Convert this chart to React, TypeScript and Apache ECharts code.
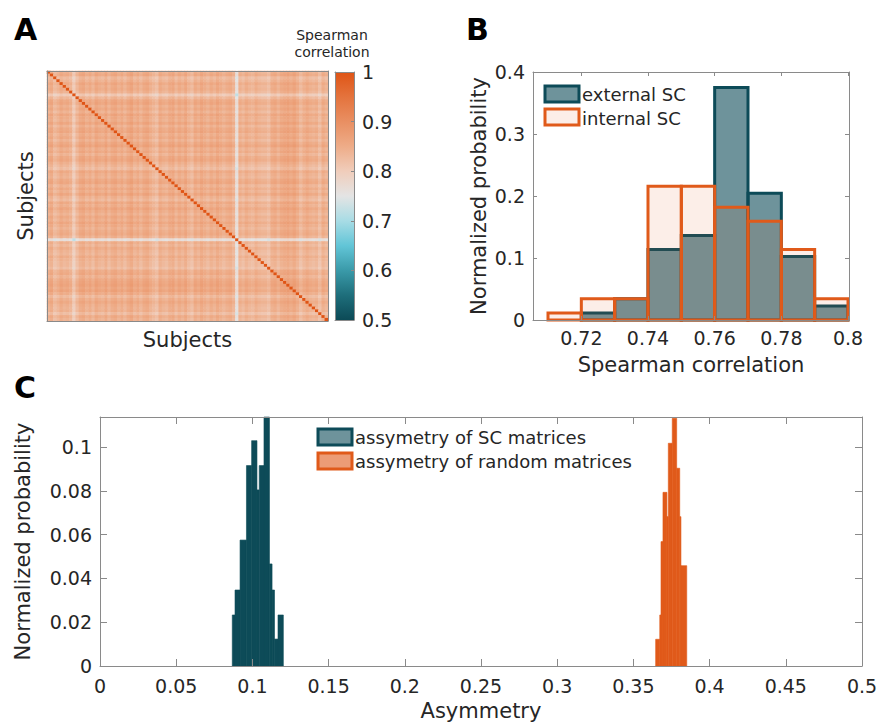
import React, { useEffect, useRef } from "react";
import * as echarts from "echarts";

// ---------- DATA ----------
// Panel A: per-subject atypicality read from the light rows/columns of the matrix
const subjectOffset = [
  0.03, 0.02, 0.045, 0.035, 0.02, 0.03, 0.025, 0.035, 0.07, 0.04,
  0.02, 0.015, 0.03, 0.02, 0.035, 0.015, 0.025, 0.03, 0.015, 0.035,
  0.02, 0.015, 0.03, 0.02, 0.035, 0.02, 0.01, 0.03, 0.02, 0.035,
  0.02, 0.015, 0.03, 0.04, 0.05, 0.02, 0.03, 0.035, 0.02, 0.015,
  0.035, 0.02, 0.03, 0.015, 0.035, 0.045, 0.02, 0.03, 0.015, 0.025,
  0.035, 0.02, 0.03, 0.015, 0.025, 0.035, 0.025, 0.02, 0.035, 0.11,
  0.03, 0.04, 0.025, 0.035, 0.04, 0.025, 0.035, 0.04, 0.04, 0.05,
  0.025, 0.02, 0.035, 0.02, 0.015, 0.01, 0.02, 0.01, 0.025, 0.045,
  0.03, 0.02, 0.03, 0.035, 0.03, 0.05, 0.025, 0.035,
];
const baseCorrelation = 0.9;
const diagonalCorrelation = 1;
const colorRange = [0.5, 1];
const colorbarTicks = [0.5, 0.6, 0.7, 0.8, 0.9, 1];
const colormap = [
  "#0c4a56", "#1e6e7b", "#3a9aa9", "#62c5d7", "#a8dce5",
  "#e4e4e4", "#f0cdbb", "#eeac88", "#e98f62", "#e4733d", "#df5415",
];

// Panel B
const binEdgesB = [0.71, 0.72, 0.73, 0.74, 0.75, 0.76, 0.77, 0.78, 0.79, 0.8];
const externalSC = [0, 0.0114, 0.0341, 0.1136, 0.1364, 0.375, 0.2045, 0.1023, 0.0227];
const internalSC = [0.0114, 0.0341, 0.0341, 0.2159, 0.2159, 0.1818, 0.1591, 0.1136, 0.0341];
const xTicksB = [0.72, 0.74, 0.76, 0.78, 0.8];
const xRangeB = [0.7055, 0.8003];
const yRangeB = [0, 0.4];

// Panel C
const scEdges = [0.0868, 0.0886, 0.0919, 0.0961, 0.0995, 0.103, 0.1045, 0.1076, 0.1112, 0.1129, 0.1145, 0.1168, 0.1203];
const scProb = [0.0233, 0.0347, 0.0575, 0.0915, 0.1029, 0.0804, 0.0915, 0.1137, 0.0466, 0.0347, 0.0123, 0.0233];
const randomEdges = [0.3646, 0.3673, 0.3681, 0.3694, 0.372, 0.3729, 0.3755, 0.3784, 0.3804, 0.3812, 0.385];
const randomProb = [0.0122, 0.0233, 0.0568, 0.0793, 0.0682, 0.1017, 0.1131, 0.0903, 0.0682, 0.0458];
const yTicksC = [0, 0.02, 0.04, 0.06, 0.08, 0.1];
const xRangeC = [0, 0.5];
const yRangeC = [0, 0.1137];

// ---------- STYLE ----------
const FONT = "DejaVu Sans";
const TEXT = "#262626";
const AXIS = "#8a8a8a";
const TEAL = "#0d4b58";
const ORANGE = "#e05a1a";

function histData(edges: number[], vals: number[]) {
  const out: number[][] = [];
  for (let i = 0; i < vals.length; i++) {
    if (vals[i] > 0) out.push([edges[i], edges[i + 1], vals[i]]);
  }
  return out;
}

function histRender(fill: string, stroke: string, lw: number) {
  return (_params: any, api: any) => {
    const tl = api.coord([api.value(0), api.value(2)]);
    const br = api.coord([api.value(1), 0]);
    return {
      type: "rect",
      shape: { x: tl[0], y: tl[1], width: br[0] - tl[0], height: br[1] - tl[1] },
      style: { fill, stroke, lineWidth: lw },
    };
  };
}

const fmt = (v: number) => String(+Number(v).toFixed(2));

function boxAxis(gridIndex: number, position: string, type: string, extra: any = {}) {
  return {
    gridIndex,
    position,
    type,
    z: 10,
    axisLine: { show: true, onZero: false, lineStyle: { color: AXIS, width: 1 } },
    axisTick: { show: false },
    axisLabel: { show: false },
    splitLine: { show: false },
    ...extra,
  };
}

export default function App() {
  const ref = useRef<HTMLDivElement>(null);
  useEffect(() => {
    document.body.style.margin = "0";
    if (!ref.current) return;
    const chart = echarts.init(ref.current, null, { renderer: "svg" });

    const n = subjectOffset.length;
    const ids = Array.from({ length: n }, (_, i) => String(i + 1));
    const heat: number[][] = [];
    for (let i = 0; i < n; i++) {
      for (let j = 0; j < n; j++) {
        const v = i === j ? diagonalCorrelation : baseCorrelation - subjectOffset[i] - subjectOffset[j];
        heat.push([j, i, v]);
      }
    }

    const gradStops = colormap.map((c, k) => ({ offset: 1 - k / (colormap.length - 1), color: c })).reverse();

    const tickLabel = { fontFamily: FONT, fontSize: 19, color: TEXT };
    const nameStyle = { fontFamily: FONT, fontSize: 21, color: TEXT };

    const option: any = {
      animation: false,
      textStyle: { fontFamily: FONT },
      grid: [
        { left: 47, top: 71, width: 281, height: 250, outerBoundsMode: "none" },
        { left: 335, top: 72, width: 19, height: 248, outerBoundsMode: "none" },
        { left: 533, top: 72, width: 316, height: 248, outerBoundsMode: "none" },
        { left: 100, top: 417, width: 762, height: 249, outerBoundsMode: "none" },
      ],
      visualMap: {
        type: "continuous",
        show: false,
        min: colorRange[0],
        max: colorRange[1],
        seriesIndex: 0,
        inRange: { color: colormap },
      },
      xAxis: [
        boxAxis(0, "bottom", "category", {
          data: ids,
          name: "Subjects",
          nameLocation: "middle",
          nameGap: 8,
          nameMoveOverlap: false,
          nameTextStyle: nameStyle,
        }),
        boxAxis(0, "top", "category", { data: ids }),
        boxAxis(1, "bottom", "value", { min: 0, max: 1 }),
        boxAxis(1, "top", "value", { min: 0, max: 1 }),
        boxAxis(2, "bottom", "value", {
          min: xRangeB[0],
          max: xRangeB[1],
          axisTick: { show: true, inside: true, length: 4, customValues: xTicksB, lineStyle: { color: AXIS } },
          axisLabel: { show: true, margin: 8, customValues: xTicksB, formatter: fmt, ...tickLabel },
          name: "Spearman correlation",
          nameLocation: "middle",
          nameGap: 34,
          nameMoveOverlap: false,
          nameTextStyle: nameStyle,
        }),
        boxAxis(2, "top", "value", {
          min: xRangeB[0],
          max: xRangeB[1],
          axisTick: { show: true, inside: true, length: 4, customValues: xTicksB, lineStyle: { color: AXIS } },
        }),
        boxAxis(3, "bottom", "value", {
          min: xRangeC[0],
          max: xRangeC[1],
          interval: 0.05,
          axisTick: { show: true, inside: true, length: 7, lineStyle: { color: AXIS } },
          axisLabel: { show: true, margin: 10, formatter: fmt, ...tickLabel },
          name: "Asymmetry",
          nameLocation: "middle",
          nameGap: 34,
          nameMoveOverlap: false,
          nameTextStyle: nameStyle,
        }),
        boxAxis(3, "top", "value", {
          min: xRangeC[0],
          max: xRangeC[1],
          interval: 0.05,
          axisTick: { show: true, inside: true, length: 7, lineStyle: { color: AXIS } },
        }),
      ],
      yAxis: [
        boxAxis(0, "left", "category", {
          data: ids,
          inverse: true,
          name: "Subjects",
          nameLocation: "middle",
          nameRotate: 90,
          nameGap: 11,
          nameMoveOverlap: false,
          nameTextStyle: nameStyle,
        }),
        boxAxis(0, "right", "category", { data: ids, inverse: true }),
        boxAxis(1, "left", "value", { min: colorRange[0], max: colorRange[1] }),
        boxAxis(1, "right", "value", {
          min: colorRange[0],
          max: colorRange[1],
          axisTick: { show: true, inside: true, length: 3, customValues: colorbarTicks, lineStyle: { color: AXIS } },
          axisLabel: { show: true, margin: 8, customValues: colorbarTicks, formatter: fmt, ...tickLabel },
        }),
        boxAxis(2, "left", "value", {
          min: yRangeB[0],
          max: yRangeB[1],
          interval: 0.1,
          axisTick: { show: true, inside: true, length: 4, lineStyle: { color: AXIS } },
          axisLabel: { show: true, margin: 8, formatter: fmt, ...tickLabel },
          name: "Normalized probability",
          nameLocation: "middle",
          nameRotate: 90,
          nameGap: 44,
          nameMoveOverlap: false,
          nameTextStyle: nameStyle,
        }),
        boxAxis(2, "right", "value", {
          min: yRangeB[0],
          max: yRangeB[1],
          interval: 0.1,
          axisTick: { show: true, inside: true, length: 4, lineStyle: { color: AXIS } },
        }),
        boxAxis(3, "left", "value", {
          min: yRangeC[0],
          max: yRangeC[1],
          axisTick: { show: true, inside: true, length: 7, customValues: yTicksC, lineStyle: { color: AXIS } },
          axisLabel: { show: true, margin: 8, customValues: yTicksC, formatter: fmt, ...tickLabel },
          name: "Normalized probability",
          nameLocation: "middle",
          nameRotate: 90,
          nameGap: 67,
          nameMoveOverlap: false,
          nameTextStyle: nameStyle,
        }),
        boxAxis(3, "right", "value", {
          min: yRangeC[0],
          max: yRangeC[1],
          axisTick: { show: true, inside: true, length: 7, customValues: yTicksC, lineStyle: { color: AXIS } },
        }),
      ],
      series: [
        {
          type: "heatmap",
          xAxisIndex: 0,
          yAxisIndex: 0,
          data: heat,
          progressive: 0,
          itemStyle: { borderWidth: 0 },
          emphasis: { disabled: true },
        },
        {
          type: "custom",
          xAxisIndex: 2,
          yAxisIndex: 3,
          data: [[0, 1, colorRange[0], colorRange[1]]],
          renderItem: (_p: any, api: any) => {
            const tl = api.coord([api.value(0), api.value(3)]);
            const br = api.coord([api.value(1), api.value(2)]);
            return {
              type: "rect",
              shape: { x: tl[0], y: tl[1], width: br[0] - tl[0], height: br[1] - tl[1] },
              style: { fill: new echarts.graphic.LinearGradient(0, 0, 0, 1, gradStops) },
            };
          },
        },
        {
          type: "custom",
          xAxisIndex: 4,
          yAxisIndex: 4,
          data: histData(binEdgesB, externalSC),
          encode: { x: [0, 1], y: 2 },
          renderItem: histRender("rgba(13,75,88,0.6)", TEAL, 3),
        },
        {
          type: "custom",
          xAxisIndex: 4,
          yAxisIndex: 4,
          data: histData(binEdgesB, internalSC),
          encode: { x: [0, 1], y: 2 },
          renderItem: histRender("rgba(224,90,26,0.1)", ORANGE, 3),
        },
        {
          type: "custom",
          xAxisIndex: 6,
          yAxisIndex: 6,
          data: histData(scEdges, scProb),
          encode: { x: [0, 1], y: 2 },
          renderItem: histRender(TEAL, TEAL, 0.6),
        },
        {
          type: "custom",
          xAxisIndex: 6,
          yAxisIndex: 6,
          data: histData(randomEdges, randomProb),
          encode: { x: [0, 1], y: 2 },
          renderItem: histRender(ORANGE, ORANGE, 0.6),
        },
      ],
      graphic: [
        { type: "text", left: 14, top: 14, style: { text: "A", font: `bold 30px "${FONT}"`, fill: "#000" } },
        { type: "text", left: 466, top: 14, style: { text: "B", font: `bold 30px "${FONT}"`, fill: "#000" } },
        { type: "text", left: 14, top: 372, style: { text: "C", font: `bold 30px "${FONT}"`, fill: "#000" } },
        {
          type: "text",
          x: 332,
          y: 35,
          style: { text: "Spearman", font: `14px "${FONT}"`, fill: TEXT, align: "center", verticalAlign: "middle" },
        },
        {
          type: "text",
          x: 332,
          y: 52,
          style: { text: "correlation", font: `14px "${FONT}"`, fill: TEXT, align: "center", verticalAlign: "middle" },
        },
        // Legend B
        { type: "rect", shape: { x: 545, y: 86, width: 34, height: 16 }, style: { fill: "rgba(13,75,88,0.6)", stroke: TEAL, lineWidth: 3 } },
        { type: "rect", shape: { x: 545, y: 109, width: 34, height: 16 }, style: { fill: "rgba(224,90,26,0.1)", stroke: ORANGE, lineWidth: 3 } },
        { type: "text", x: 582, y: 94, style: { text: "external SC", font: `18px "${FONT}"`, fill: TEXT, verticalAlign: "middle" } },
        { type: "text", x: 582, y: 118, style: { text: "internal SC", font: `18px "${FONT}"`, fill: TEXT, verticalAlign: "middle" } },
        // Legend C
        { type: "rect", shape: { x: 318, y: 429, width: 34, height: 16 }, style: { fill: "rgba(13,75,88,0.6)", stroke: TEAL, lineWidth: 3 } },
        { type: "rect", shape: { x: 318, y: 453, width: 34, height: 16 }, style: { fill: "rgba(224,90,26,0.6)", stroke: ORANGE, lineWidth: 3 } },
        { type: "text", x: 355, y: 437, style: { text: "assymetry of SC matrices", font: `18px "${FONT}"`, fill: TEXT, verticalAlign: "middle" } },
        { type: "text", x: 355, y: 461, style: { text: "assymetry of random matrices", font: `18px "${FONT}"`, fill: TEXT, verticalAlign: "middle" } },
      ],
    };

    chart.setOption(option);
    return () => chart.dispose();
  }, []);

  return <div ref={ref} style={{ width: 878, height: 724 }} />;
}
